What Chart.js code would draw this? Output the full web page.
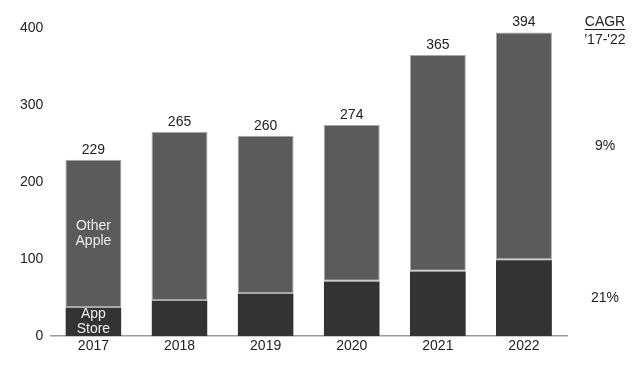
<!DOCTYPE html>
<html>
<head>
<meta charset="utf-8">
<script src="https://cdn.jsdelivr.net/npm/chart.js@4"></script>
<style>
  html, body { margin: 0; padding: 0; background: #fff; }
  #wrap { width: 640px; height: 366px; }
</style>
</head>
<body>
<div id="wrap"><canvas id="revChart"></canvas></div>
<script>
const years = ['2017', '2018', '2019', '2020', '2021', '2022'];
const app_store = [38, 47, 56, 72, 85, 100];
const other_apple = [191, 218, 204, 202, 280, 294];
const totals = [229, 265, 260, 274, 365, 394];
const cagr_title = ['CAGR', "'17-'22"];
const cagr_values = ['21%', '9%']; // app store, other apple

const FONT = 'Liberation Sans, Arial, sans-serif';

// totals above bars, series names in first bar, CAGR column on the right
const labelPlugin = {
  id: 'labels',
  afterDatasetsDraw(chart) {
    let ctx = chart.ctx;
    let y = chart.scales.y;
    let area = chart.chartArea;
    ctx.save();
    ctx.font = '14px ' + FONT;
    ctx.fillStyle = '#222';
    ctx.textAlign = 'center';
    ctx.textBaseline = 'bottom';

    let meta = chart.getDatasetMeta(1);
    meta.data.forEach(function(bar, i) {
      ctx.fillText(totals[i], bar.x, y.getPixelForValue(totals[i]) - 3);
    });

    // series names inside first bar
    ctx.fillStyle = '#eeeeee';
    ctx.textBaseline = 'middle';
    let bx = meta.data[0].x;
    let midOther = y.getPixelForValue(app_store[0] + other_apple[0] / 2);
    ctx.fillText('Other', bx, midOther - 7);
    ctx.fillText('Apple', bx, midOther + 8);
    let midApp = y.getPixelForValue(app_store[0] / 2);
    ctx.fillText('App', bx, midApp - 7);
    ctx.fillText('Store', bx, midApp + 8);

    // CAGR column
    let cx = area.right + 38;
    ctx.fillStyle = '#222';
    ctx.fillText(cagr_title[0], cx, 22);
    let w = ctx.measureText(cagr_title[0]).width;
    ctx.fillRect(cx - w / 2, 29, w, 1);
    ctx.fillText(cagr_title[1], cx, 40);

    let n = years.length - 1;
    ctx.fillText(cagr_values[0], cx, y.getPixelForValue(app_store[n] / 2));
    ctx.fillText(cagr_values[1], cx, y.getPixelForValue(app_store[n] + other_apple[n] / 2));
    ctx.restore();
  }
};

let data = {
  labels: years,
  datasets: [{
    label: 'App Store',
    data: app_store,
    backgroundColor: '#333333',
    borderColor: '#a8a8a8',
    borderWidth: {top: 1, left: 0, right: 0, bottom: 0},
    borderSkipped: false
  }, {
    label: 'Other Apple',
    data: other_apple,
    backgroundColor: '#5b5b5b',
    borderColor: '#a8a8a8',
    borderWidth: {top: 1, left: 1, right: 1, bottom: 1},
    borderSkipped: false
  }]
};

let config = {
  type: 'bar',
  data: data,
  options: {
    responsive: true,
    maintainAspectRatio: false,
    animation: false,
    layout: {padding: {top: 28, right: 73, left: 13, bottom: 9}},
    datasets: {bar: {categoryPercentage: 1, barPercentage: 0.65}},
    plugins: {legend: {display: false}, tooltip: {enabled: false}},
    scales: {
      x: {
        stacked: true,
        grid: {display: false, drawTicks: false},
        border: {display: true, color: '#999', width: 1.5},
        ticks: {color: '#222', font: {family: FONT, size: 14}, padding: 2}
      },
      y: {
        stacked: true,
        min: 0,
        max: 400,
        grid: {display: false, drawTicks: false},
        border: {display: false},
        ticks: {stepSize: 100, color: '#222', font: {family: FONT, size: 14}, padding: 7}
      }
    }
  },
  plugins: [labelPlugin]
};

let revChart = new Chart(document.getElementById('revChart'), config);
</script>
</body>
</html>
